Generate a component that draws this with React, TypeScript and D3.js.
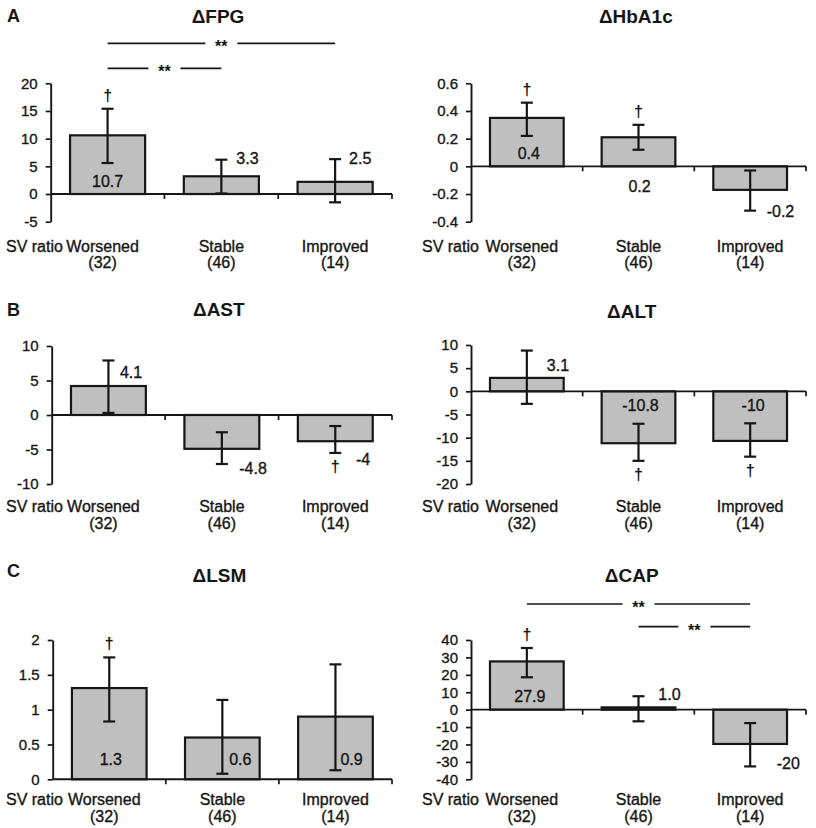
import React, { useEffect, useRef } from "react";
import * as d3 from "d3";

// ---------- data ----------
const categories = ["Worsened", "Stable", "Improved"];
const groupSizes = ["(32)", "(46)", "(14)"];
const axisCaption = "SV ratio";

const fpgMean = [10.6, 3.2, 2.2];
const fpgLo = [5.6, 0.1, -1.5];
const fpgHi = [15.4, 6.2, 6.3];
const fpgLabels = ["10.7", "3.3", "2.5"];
const fpgDagger = [true, false, false];
const fpgTicks = [-5, 0, 5, 10, 15, 20];
const fpgBrackets: [number, number][] = [[0, 2], [0, 1]];

const hbMean = [0.35, 0.21, -0.17];
const hbLo = [0.22, 0.12, -0.32];
const hbHi = [0.46, 0.3, -0.03];
const hbLabels = ["0.4", "0.2", "-0.2"];
const hbDagger = [true, true, false];
const hbTicks = [-0.4, -0.2, 0, 0.2, 0.4, 0.6];

const astMean = [4.2, -4.9, -3.8];
const astLo = [0.3, -7.1, -5.5];
const astHi = [7.9, -2.5, -1.6];
const astLabels = ["4.1", "-4.8", "-4"];
const astDagger = [false, false, true];
const astTicks = [-10, -5, 0, 5, 10];

const altMean = [2.9, -11.2, -10.7];
const altLo = [-2.7, -15.0, -14.1];
const altHi = [8.8, -7.0, -6.9];
const altLabels = ["3.1", "-10.8", "-10"];
const altDagger = [false, true, true];
const altTicks = [-20, -15, -10, -5, 0, 5, 10];

const lsmMean = [1.31, 0.6, 0.9];
const lsmLo = [0.83, 0.08, 0.13];
const lsmHi = [1.75, 1.14, 1.65];
const lsmLabels = ["1.3", "0.6", "0.9"];
const lsmDagger = [true, false, false];
const lsmTicks = [0, 0.5, 1, 1.5, 2];

const capMean = [27.7, 1.3, -19.7];
const capLo = [18.6, -6.7, -32.6];
const capHi = [35.4, 7.7, -7.7];
const capLabels = ["27.9", "1.0", "-20"];
const capDagger = [true, false, false];
const capTicks = [-40, -30, -20, -10, 0, 10, 20, 30, 40];
const capBrackets: [number, number][] = [[0, 2], [1, 2]];

// ---------- layout ----------
type LabelPos = { ref: "zero" | "hi" | "lo"; dx: number; dy: number; anchor: string };
type Panel = {
  letter?: string;
  title: string;
  mean: number[];
  lo: number[];
  hi: number[];
  labels: string[];
  dagger: boolean[];
  ticks: number[];
  brackets?: [number, number][];
  bracketY?: number[];
  x0: number;
  x1: number;
  yTop: number;
  yBot: number;
  titleX: number;
  titleY: number;
  letterY?: number;
  capX: number;
  catY1: number;
  catY2: number;
  lab: LabelPos[];
};

const panels: Panel[] = [
  {
    letter: "A", title: "ΔFPG", mean: fpgMean, lo: fpgLo, hi: fpgHi, labels: fpgLabels, dagger: fpgDagger,
    ticks: fpgTicks, brackets: fpgBrackets, bracketY: [43.3, 68.3],
    x0: 50.7, x1: 392, yTop: 83.3, yBot: 221.7, titleX: 218, titleY: 22.7, letterY: 21.7,
    capX: 6, catY1: 251.7, catY2: 268,
    lab: [
      { ref: "zero", dx: 0, dy: -7, anchor: "middle" },
      { ref: "hi", dx: 15, dy: 4.5, anchor: "start" },
      { ref: "hi", dx: 14, dy: 4.5, anchor: "start" },
    ],
  },
  {
    title: "ΔHbA1c", mean: hbMean, lo: hbLo, hi: hbHi, labels: hbLabels, dagger: hbDagger,
    ticks: hbTicks,
    x0: 471, x1: 806, yTop: 83.3, yBot: 221.7, titleX: 635.8, titleY: 22.7,
    capX: 422, catY1: 251.7, catY2: 268,
    lab: [
      { ref: "zero", dx: 2, dy: -7.7, anchor: "middle" },
      { ref: "zero", dx: 1, dy: 25.7, anchor: "middle" },
      { ref: "lo", dx: 16.5, dy: 6.3, anchor: "start" },
    ],
  },
  {
    letter: "B", title: "ΔAST", mean: astMean, lo: astLo, hi: astHi, labels: astLabels, dagger: astDagger,
    ticks: astTicks,
    x0: 51.7, x1: 392, yTop: 346, yBot: 484, titleX: 218.8, titleY: 316, letterY: 316,
    capX: 6, catY1: 511.7, catY2: 529,
    lab: [
      { ref: "hi", dx: 11.5, dy: 17.6, anchor: "start" },
      { ref: "lo", dx: 17.4, dy: 10, anchor: "start" },
      { ref: "lo", dx: 20.7, dy: 11.7, anchor: "start" },
    ],
  },
  {
    title: "ΔALT", mean: altMean, lo: altLo, hi: altHi, labels: altLabels, dagger: altDagger,
    ticks: altTicks,
    x0: 471, x1: 806, yTop: 345, yBot: 484, titleX: 631.7, titleY: 318.3,
    capX: 422, catY1: 511.7, catY2: 529,
    lab: [
      { ref: "zero", dx: 20, dy: -20.7, anchor: "start" },
      { ref: "zero", dx: 2, dy: 20, anchor: "middle" },
      { ref: "zero", dx: 3, dy: 20, anchor: "middle" },
    ],
  },
  {
    letter: "C", title: "ΔLSM", mean: lsmMean, lo: lsmLo, hi: lsmHi, labels: lsmLabels, dagger: lsmDagger,
    ticks: lsmTicks,
    x0: 52.7, x1: 392, yTop: 640, yBot: 779.3, titleX: 219.5, titleY: 581.7, letterY: 577,
    capX: 6, catY1: 805, catY2: 821.5,
    lab: [
      { ref: "zero", dx: 1.5, dy: -14.3, anchor: "middle" },
      { ref: "zero", dx: 6.8, dy: -14.3, anchor: "start" },
      { ref: "zero", dx: 5, dy: -14.3, anchor: "start" },
    ],
  },
  {
    title: "ΔCAP", mean: capMean, lo: capLo, hi: capHi, labels: capLabels, dagger: capDagger,
    ticks: capTicks, brackets: capBrackets, bracketY: [604, 626.7],
    x0: 471, x1: 806, yTop: 640, yBot: 779.3, titleX: 631.7, titleY: 582.3,
    capX: 422, catY1: 805, catY2: 821.5,
    lab: [
      { ref: "zero", dx: 3, dy: -7.6, anchor: "middle" },
      { ref: "hi", dx: 19.8, dy: 3.3, anchor: "start" },
      { ref: "lo", dx: 26.5, dy: 2.3, anchor: "start" },
    ],
  },
];

const FONT = "'Liberation Sans', Arial, Helvetica, sans-serif";
const INK = "#161616";
const FILL = "#bfbfbf";

function styleText(sel: any, size: number, bold = false) {
  sel
    .attr("fill", INK)
    .style("font-family", FONT)
    .style("font-size", `${size}px`)
    .style("font-weight", bold ? "bold" : "normal");
  if (!bold) sel.attr("stroke", INK).attr("stroke-width", 0.35);
  return sel;
}

function drawPanel(svg: d3.Selection<SVGSVGElement, unknown, null, undefined>, p: Panel) {
  const g = svg.append("g");
  const pi = 0.34;
  const x = d3.scaleBand<string>().domain(categories).range([p.x0, p.x1]).paddingInner(pi).paddingOuter(pi / 2);
  const y = d3.scaleLinear().domain([p.ticks[0], p.ticks[p.ticks.length - 1]]).range([p.yBot, p.yTop]);
  const bw = x.bandwidth();
  const step = x.step();
  const y0 = y(0);

  // bars
  g.selectAll("rect.bar")
    .data(p.mean)
    .join("rect")
    .attr("x", (_, i) => x(categories[i])!)
    .attr("width", bw)
    .attr("y", (d) => Math.min(y(d), y0))
    .attr("height", (d) => Math.abs(y(d) - y0))
    .attr("fill", FILL)
    .attr("stroke", INK)
    .attr("stroke-width", 2.2);

  // y axis
  const ya = g
    .append("g")
    .attr("transform", `translate(${p.x0},0)`)
    .call(
      d3
        .axisLeft(y)
        .tickValues(p.ticks)
        .tickSize(5)
        .tickSizeOuter(0)
        .tickPadding(8)
        .tickFormat((d) => String(+(+d).toFixed(2)))
    );
  ya.select(".domain").attr("stroke", INK).attr("stroke-width", 1.9);
  ya.selectAll(".tick line").attr("stroke", INK).attr("stroke-width", 1.7);
  styleText(ya.selectAll(".tick text"), 15);

  // x axis (at zero)
  g.append("line")
    .attr("x1", p.x0)
    .attr("x2", p.x1)
    .attr("y1", y0)
    .attr("y2", y0)
    .attr("stroke", INK)
    .attr("stroke-width", 1.9);
  g.selectAll("line.ctick")
    .data(categories)
    .join("line")
    .attr("x1", (c) => x(c)! + bw + (step * pi) / 2)
    .attr("x2", (c) => x(c)! + bw + (step * pi) / 2)
    .attr("y1", y0)
    .attr("y2", y0 + 5)
    .attr("stroke", INK)
    .attr("stroke-width", 1.7);

  // error bars
  const cx = (i: number) => x(categories[i])! + bw / 2;
  p.mean.forEach((_, i) => {
    const eg = g.append("g").attr("stroke", INK).attr("stroke-width", 2.2);
    eg.append("line").attr("x1", cx(i)).attr("x2", cx(i)).attr("y1", y(p.hi[i])).attr("y2", y(p.lo[i]));
    [p.hi[i], p.lo[i]].forEach((v) =>
      eg.append("line").attr("x1", cx(i) - 6).attr("x2", cx(i) + 6).attr("y1", y(v)).attr("y2", y(v))
    );
  });

  // value labels
  p.labels.forEach((t, i) => {
    const L = p.lab[i];
    const ry = L.ref === "zero" ? y0 : L.ref === "hi" ? y(p.hi[i]) : y(p.lo[i]);
    styleText(
      g.append("text").attr("x", cx(i) + L.dx).attr("y", ry + L.dy).attr("text-anchor", L.anchor),
      16
    ).text(t);
  });

  // daggers
  p.dagger.forEach((d, i) => {
    if (!d) return;
    const pos = p.mean[i] >= 0;
    styleText(
      g
        .append("text")
        .attr("x", cx(i))
        .attr("y", pos ? y(p.hi[i]) - 8 : y(p.lo[i]) + 19)
        .attr("text-anchor", "middle"),
      16,
      true
    ).text("†");
  });

  // significance brackets
  (p.brackets || []).forEach(([a, b], k) => {
    const by = p.bracketY![k];
    const xa = cx(a);
    const xb = cx(b);
    const xm = (xa + xb) / 2;
    const gap = 16;
    g.append("line").attr("x1", xa).attr("x2", xm - gap).attr("y1", by).attr("y2", by).attr("stroke", INK).attr("stroke-width", 1.7);
    g.append("line").attr("x1", xm + gap).attr("x2", xb).attr("y1", by).attr("y2", by).attr("stroke", INK).attr("stroke-width", 1.7);
    styleText(g.append("text").attr("x", xm).attr("y", by + 9).attr("text-anchor", "middle"), 16, true).text("**");
  });

  // category labels
  styleText(g.append("text").attr("x", p.capX).attr("y", p.catY1), 16).text(axisCaption);
  categories.forEach((c, i) => {
    const shift = i === 0 ? -5 : 0;
    styleText(g.append("text").attr("x", cx(i) + shift).attr("y", p.catY1).attr("text-anchor", "middle"), 16).text(c);
    styleText(g.append("text").attr("x", cx(i) + shift).attr("y", p.catY2).attr("text-anchor", "middle"), 16).text(
      groupSizes[i]
    );
  });

  // title and letter
  styleText(g.append("text").attr("x", p.titleX).attr("y", p.titleY).attr("text-anchor", "middle"), 19, true).text(
    p.title
  );
  if (p.letter) {
    styleText(g.append("text").attr("x", 7).attr("y", p.letterY!), 18, true).text(p.letter);
  }
}

export default function App() {
  const ref = useRef<SVGSVGElement | null>(null);
  useEffect(() => {
    if (!ref.current) return;
    const svg = d3.select(ref.current);
    svg.selectAll("*").remove();
    svg.append("rect").attr("width", 816).attr("height", 828).attr("fill", "#ffffff");
    panels.forEach((p) => drawPanel(svg, p));
  }, []);
  return (
    <svg
      ref={ref}
      width={816}
      height={828}
      style={{ position: "absolute", left: 0, top: 0, display: "block" }}
    />
  );
}
